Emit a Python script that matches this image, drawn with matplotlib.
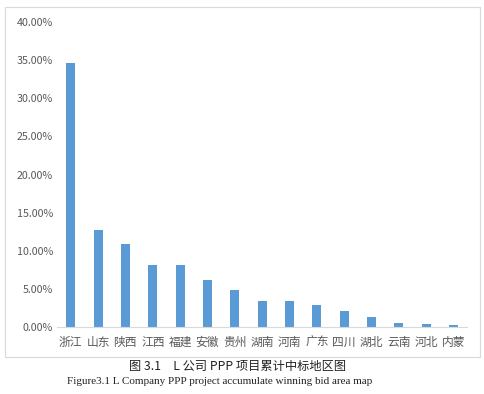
import numpy as np
import matplotlib.pyplot as plt
from matplotlib.patches import Rectangle

plt.rcParams['font.family'] = ['Noto Sans CJK SC', 'DejaVu Sans']

regions = ["浙江", "山东", "陕西", "江西", "福建", "安徽", "贵州", "湖南",
           "河南", "广东", "四川", "湖北", "云南", "河北", "内蒙"]
share = [34.6, 12.7, 10.9, 8.1, 8.1, 6.2, 4.8, 3.4,
         3.4, 2.9, 2.1, 1.3, 0.5, 0.45, 0.2]
yticks = [0, 5, 10, 15, 20, 25, 30, 35, 40]

fig = plt.figure(figsize=(4.85, 3.94), dpi=100)
ax = fig.add_axes([0.1175, 0.170, 0.846, 0.774])

x = np.arange(len(regions))
ax.bar(x, share, width=0.33, color='#5B9BD5')

ax.set_xlim(-0.5, len(regions) - 0.5)
ax.set_ylim(0, 40)
ax.set_yticks(yticks)
ax.set_yticklabels(["{:.2f}%".format(v) for v in yticks], fontsize=7.7, color='#595959')
ax.set_xticks(x)
ax.set_xticklabels(regions, fontsize=8.5, color='#595959')
for lab in ax.get_xticklabels():
    lab.set_va('baseline')
ax.tick_params(axis='y', length=0, pad=3)
ax.tick_params(axis='x', length=0, pad=13.5)

for s in ['top', 'right', 'left']:
    ax.spines[s].set_visible(False)
ax.spines['bottom'].set_color('#d9d9d9')

# chart frame
fig.patches.append(Rectangle((5 / 485, 1 - 357 / 394), 475 / 485, 350 / 394,
                             transform=fig.transFigure, fill=False,
                             edgecolor='#d9d9d9', linewidth=0.8))

fig.text(238 / 485, 1 - 366 / 394, "图 3.1　L 公司 PPP 项目累计中标地区图",
         ha='center', va='center', fontsize=8.8, color='#222222')
fig.text(220 / 485, 1 - 382 / 394, "Figure3.1 L Company PPP project accumulate winning bid area map",
         ha='center', va='center', fontsize=8, color='#222222', family='Liberation Serif')

plt.savefig("out.png", dpi=100)
